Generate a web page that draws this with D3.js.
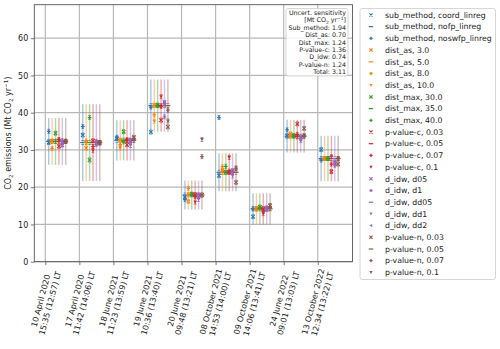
<!DOCTYPE html>
<html><head><meta charset="utf-8">
<script src="https://cdn.jsdelivr.net/npm/d3@7"></script>
<style>body{margin:0;background:#fff}svg{display:block;font-family:"DejaVu Sans",sans-serif}</style>
</head><body><svg id="c" width="500" height="349"></svg>
<script>
// ---------- DATA ----------
const dateLabels = [
  ["10 April 2020","15:35 (12:57) LT"],
  ["17 April 2020","11:42 (14:06) LT"],
  ["18 June 2021","11:23 (13:59) LT"],
  ["19 June 2021","10:36 (13:40) LT"],
  ["20 June 2021","09:48 (13:21) LT"],
  ["08 October 2021","14:53 (14:00) LT"],
  ["09 October 2021","14:06 (13:41) LT"],
  ["24 June 2022","09:01 (13:03) LT"],
  ["13 October 2022","12:34 (13:22) LT"]
];
const yTicks = [0,10,20,30,40,50,60];
// baseline (reference configuration) per overpass
const baseline   = [32.3, 32.0, 32.6, 41.9, 17.9, 24.0, 14.2, 33.7, 27.7];
// half-width of the total uncertainty bar per overpass
const totalUnc   = [6.3, 10.3, 5.4, 7.0, 3.9, 5.1, 4.2, 4.4, 6.1];

const subCoord   = [32.0, 34.0, 33.1, 34.8, 17.3, 23.1, 12.1, 33.8, 30.1];
const subNoswfp  = [35.0, 36.3, 33.4, 41.5, 16.7, 38.7, 14.2, 35.4, 27.3];
const distAs3    = [32.4, 30.5, 32.6, 42.0, 16.2, 24.5, 14.2, 34.3, 27.7];
const distAs8    = [30.4, 32.4, 31.4, 39.4, 19.7, 25.5, 14.2, 33.8, 27.7];
const distAs10   = [32.3, 32.0, 30.5, 37.7, 18.0, 24.0, 14.2, 33.8, 27.7];
const distMax30  = [34.5, 27.3, 34.9, 42.0, 18.1, 24.0, 14.7, 33.8, 27.7];
const distMax40  = [32.3, 38.7, 32.2, 42.0, 18.1, 25.6, 14.5, 33.8, 27.7];
const pvc003     = [31.0, 32.5, 31.4, 38.0, 18.0, 24.0, 14.2, 37.0, 24.2];
const pvc007     = [32.8, 30.9, 32.7, 41.7, 17.5, 24.3, 13.5, 34.2, 26.2];
const pvc01      = [32.6, 29.8, 32.6, 44.3, 16.0, 28.0, 12.9, 33.5, 28.2];
const idwD05     = [31.3, 31.7, 32.5, 42.8, 17.5, 24.5, 14.0, 33.5, 26.5];
const idwD1      = [32.5, 32.3, 32.6, 38.9, 17.8, 24.0, 14.3, 33.2, 26.0];
const idwDd1     = [31.5, 31.5, 31.2, 42.5, 16.7, 23.0, 14.5, 32.5, 25.9];
const idwDd2     = [32.0, 32.0, 32.2, 42.0, 17.9, 24.2, 14.2, 33.0, 26.8];
const pvn003     = [32.3, 32.0, 33.4, 36.2, 17.9, 21.3, 15.1, 35.8, 26.2];
const pvn007     = [32.3, 32.0, 33.0, 40.7, 28.2, 24.9, 14.8, 33.8, 27.6];
const pvn01      = [32.3, 31.8, 32.6, 37.8, 32.8, 25.2, 14.3, 33.8, 27.7];

const groupColors = ["#1f77b4","#ff7f0e","#2ca02c","#d62728","#9467bd","#8c564b"];
const uncertLines = [
  "Uncert. sensitivity", "[Mt CO2 yr-1]", "Sub_method: 1.94", "Dist_as: 0.70",
  "Dist_max: 1.24", "P-value-c: 1.36", "D_idw: 0.74", "P-value-n: 1.24", "Total: 3.11"
];

// series table: [label, group, marker, values]
const series = [
  ["sub_method, coord_linreg", 0, "x", subCoord],
  ["sub_method, nofp_linreg", 0, "_", baseline],
  ["sub_method, noswfp_linreg", 0, "+", subNoswfp],
  ["dist_as, 3.0", 1, "x", distAs3],
  ["dist_as, 5.0", 1, "_", baseline],
  ["dist_as, 8.0", 1, "+", distAs8],
  ["dist_as, 10.0", 1, "v", distAs10],
  ["dist_max, 30.0", 2, "x", distMax30],
  ["dist_max, 35.0", 2, "_", baseline],
  ["dist_max, 40.0", 2, "+", distMax40],
  ["p-value-c, 0.03", 3, "x", pvc003],
  ["p-value-c, 0.05", 3, "_", baseline],
  ["p-value-c, 0.07", 3, "+", pvc007],
  ["p-value-c, 0.1", 3, "v", pvc01],
  ["d_idw, d05", 4, "x", idwD05],
  ["d_idw, d1", 4, "+", idwD1],
  ["d_idw, dd05", 4, "_", baseline],
  ["d_idw, dd1", 4, "v", idwDd1],
  ["d_idw, dd2", 4, "<", idwDd2],
  ["p-value-n, 0.03", 5, "x", pvn003],
  ["p-value-n, 0.05", 5, "_", baseline],
  ["p-value-n, 0.07", 5, "+", pvn007],
  ["p-value-n, 0.1", 5, "v", pvn01]
];

// ---------- CHART ----------
const svg = d3.select("#c");
const L = 34.3, R = 352.5, T = 4.7, B = 261.7;
const x = d3.scaleLinear().domain([-0.323, 9.02]).range([L, R]);
const y = d3.scaleLinear().domain([0, 69]).range([B, T]);
const groupOffset = g => 0.1 * (g + 1);
const axisCol = "#555", gridCol = "#b8b8b8";

svg.append("rect").attr("width",500).attr("height",349).attr("fill","#fff");

// grid
const grid = svg.append("g");
yTicks.forEach(v => grid.append("line").attr("x1",L).attr("x2",R).attr("y1",y(v)).attr("y2",y(v))
  .attr("stroke",gridCol).attr("stroke-width",1.2));
dateLabels.forEach((d,i) => grid.append("line").attr("x1",x(i)).attr("x2",x(i)).attr("y1",T).attr("y2",B)
  .attr("stroke",gridCol).attr("stroke-width",1.2));

// axes
const xAxis = d3.axisBottom(x).tickValues(d3.range(dateLabels.length)).tickSize(3.5).tickFormat("");
const gx = svg.append("g").attr("transform",`translate(0,${B})`).call(xAxis);
const yAxis = d3.axisLeft(y).tickValues(yTicks).tickSize(3.5).tickPadding(2.5);
const gy = svg.append("g").attr("transform",`translate(${L},0)`).call(yAxis);
[gx,gy].forEach(g => {
  g.select(".domain").remove();
  g.selectAll("line").attr("stroke",axisCol).attr("stroke-width",0.8);
  g.selectAll("text").attr("font-family","DejaVu Sans").attr("font-size",8).attr("fill","#222");
});
svg.append("rect").attr("x",L).attr("y",T).attr("width",R-L).attr("height",B-T)
  .attr("fill","none").attr("stroke",axisCol).attr("stroke-width",0.9);

// rotated two-line x labels
const fs = 8, lh = fs * 1.2, ang = 75 * Math.PI / 180;
dateLabels.forEach((lines,i) => {
  const g = svg.append("g");
  const t = g.append("text").attr("font-size",fs).attr("fill","#222").attr("text-anchor","middle");
  lines.forEach((s,k) => t.append("tspan").attr("x",0).attr("y",(k - 0.5) * lh).attr("dy","0.35em").text(s));
  let w = 0; t.selectAll("tspan").each(function(){ w = Math.max(w, this.getComputedTextLength()); });
  const h = 2 * lh;
  const bh = w * Math.sin(ang) + h * Math.cos(ang);
  const cy = B + 3.5 + 2.5 + bh / 2;
  g.attr("transform",`translate(${x(i)},${cy}) rotate(-75)`);
});

// y label
const yl = svg.append("text").attr("transform",`translate(10.5,${(T+B)/2}) rotate(-90)`)
  .attr("text-anchor","middle").attr("font-size",8).attr("fill","#222");
yl.append("tspan").text("CO");
yl.append("tspan").attr("font-size",5.6).attr("dy",2).text("2");
yl.append("tspan").attr("dy",-2).text(" emissions (Mt CO");
yl.append("tspan").attr("font-size",5.6).attr("dy",2).text("2");
yl.append("tspan").attr("dy",-2).text(" yr");
yl.append("tspan").attr("font-size",5.6).attr("dy",-3).text("−1");
yl.append("tspan").attr("dy",3).text(")");

// total uncertainty bars
const bars = svg.append("g");
dateLabels.forEach((d,i) => {
  groupColors.forEach((c,g) => {
    bars.append("line").attr("x1",x(i+groupOffset(g))).attr("x2",x(i+groupOffset(g)))
      .attr("y1",y(baseline[i]-totalUnc[i])).attr("y2",y(baseline[i]+totalUnc[i]))
      .attr("stroke",c).attr("stroke-opacity",0.4).attr("stroke-width",1.4);
  });
});

// markers
function marker(sel, type, cx, cy, color, s) {
  const g = sel.append("g").attr("transform",`translate(${cx},${cy})`);
  if (type === "x") {
    g.append("path").attr("d",`M${-s},${-s}L${s},${s}M${-s},${s}L${s},${-s}`).attr("stroke",color).attr("stroke-width",1.1);
  } else if (type === "_") {
    g.append("path").attr("d",`M${-s*1.4},0L${s*1.4},0`).attr("stroke",color).attr("stroke-width",1.2);
  } else if (type === "+") {
    g.append("path").attr("d",`M${-s},0L${s},0M0,${-s}L0,${s}`).attr("stroke",color).attr("stroke-width",1.3);
  } else if (type === "v") {
    g.append("path").attr("d",`M${-s},${-s*0.8}L${s},${-s*0.8}L0,${s}Z`).attr("fill",color);
  } else if (type === "<") {
    g.append("path").attr("d",`M${s*0.8},${-s}L${s*0.8},${s}L${-s},0Z`).attr("fill",color);
  }
  return g;
}
const pts = svg.append("g");
series.forEach(([label,g,m,vals]) => {
  vals.forEach((v,i) => {
    const cx = x(i+groupOffset(g)), cy = y(v);
    pts.append("path").attr("d",`M${cx-1.4},${cy-2}L${cx+1.4},${cy-2}M${cx-1.4},${cy+2}L${cx+1.4},${cy+2}`)
      .attr("stroke",groupColors[g]).attr("stroke-width",0.7).attr("fill","none");
    marker(pts, m, cx, cy, groupColors[g], 1.8);
  });
});

// uncertainty text box
const tb = svg.append("g");
tb.append("rect").attr("x",286).attr("y",8.5).attr("width",62).attr("height",67.5).attr("rx",2)
  .attr("fill","#fff").attr("fill-opacity",0.85).attr("stroke","#ccc").attr("stroke-width",0.8);
uncertLines.forEach((s,k) => {
  const t = tb.append("text").attr("x",346).attr("y",15 + k*7.4).attr("text-anchor","end")
    .attr("font-size",6.3).attr("fill","#222");
  if (k === 1) {
    t.append("tspan").text("[Mt CO");
    t.append("tspan").attr("font-size",4.4).attr("dy",1.5).text("2");
    t.append("tspan").attr("dy",-1.5).text(" yr");
    t.append("tspan").attr("font-size",4.4).attr("dy",-2.5).text("−1");
    t.append("tspan").attr("dy",2.5).text("]");
  } else t.text(s);
});

// legend
const lg = svg.append("g");
lg.append("rect").attr("x",360).attr("y",8.5).attr("width",135.5).attr("height",271).attr("rx",2)
  .attr("fill","#fff").attr("stroke","#ccc").attr("stroke-width",0.8);
series.forEach(([label,g,m],k) => {
  const yy = 15 + k * 11.7;
  marker(lg, m, 371, yy, groupColors[g], 1.6);
  lg.append("text").attr("x",385).attr("y",yy).attr("dy","0.35em").attr("font-size",7.8).attr("fill","#222").text(label);
});
</script></body></html>
